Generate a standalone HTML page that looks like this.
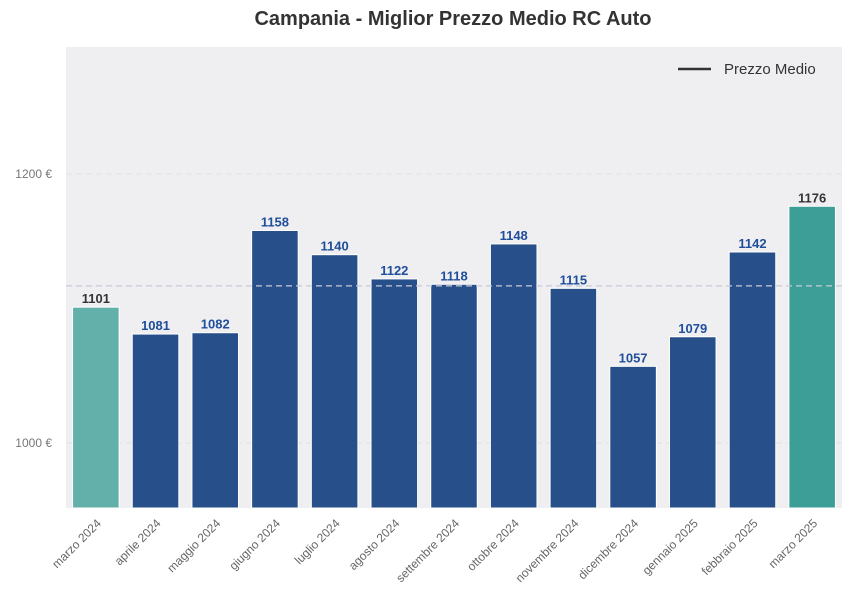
<!DOCTYPE html>
<html><head><meta charset="utf-8"><style>
body{margin:0;background:#fff;font-family:"Liberation Sans",Arial,sans-serif}
</style></head><body>
<svg id="chart" width="851" height="610" xmlns="http://www.w3.org/2000/svg">
<text x="453" y="25" text-anchor="middle" font-size="20" font-weight="bold" fill="#333">Campania - Miglior Prezzo Medio RC Auto</text>
<rect x="66" y="47" width="776" height="461" fill="#efeff1"/>
<g id="grid"></g><g id="bars"></g><g id="labels"></g><g id="xt"></g>
<g>
<line x1="678" y1="69" x2="711" y2="69" stroke="#333" stroke-width="2.5"/>
<text x="724" y="74" font-size="15" fill="#333">Prezzo Medio</text>
</g>
</svg>
<script>
const categories=["marzo 2024","aprile 2024","maggio 2024","giugno 2024","luglio 2024","agosto 2024","settembre 2024","ottobre 2024","novembre 2024","dicembre 2024","gennaio 2025","febbraio 2025","marzo 2025"];
const values=[1101,1081,1082,1158,1140,1122,1118,1148,1115,1057,1079,1142,1176];
const yTicks=[1000,1200];
const NS="http://www.w3.org/2000/svg";
const x0=66,plotW=776,yMin=951.7,yMax=1294.4,yTop=47,yBot=508;
const yS=v=>yBot-(v-yMin)/(yMax-yMin)*(yBot-yTop);
const step=plotW/categories.length;
const cx=i=>x0+step*(i+0.5);
function mk(t,a,p){const e=document.createElementNS(NS,t);for(const k in a)e.setAttribute(k,a[k]);p.appendChild(e);return e;}
const g=document.getElementById('grid');
yTicks.forEach(t=>{
 const l=mk('line',{x1:x0,x2:x0+plotW,y1:yS(t),y2:yS(t),stroke:'#e2e2e8','stroke-dasharray':'6,4'},g);
 
 
 const tx=mk('text',{x:x0-14,y:yS(t)+4,'text-anchor':'end','font-size':12,fill:'#777'},g);
 tx.textContent=t+' €';
 
 
});
const mean=values.reduce((a,b)=>a+b,0)/values.length;
const b=document.getElementById('bars'),lb=document.getElementById('labels'),xt=document.getElementById('xt');
const bw=step*0.78;
values.forEach((v,i)=>{
 const last=i===values.length-1,first=i===0;
 const col=first?'#63b0aa':last?'#3d9e98':'#274f8a';
 const r=mk('rect',{x:cx(i)-bw/2,y:yS(v),width:bw,height:yBot-yS(v),fill:col,stroke:'#fff','stroke-width':1},b);
 
 
 const t=mk('text',{x:cx(i),y:yS(v)-4,'text-anchor':'middle','font-size':13,'font-weight':'bold',fill:(first||last)?'#333':'#1f4e9b'},lb);
 t.textContent=v;
 
 
 const xl=mk('text',{x:0,y:0,'text-anchor':'end','font-size':12,fill:'#666',transform:`translate(${cx(i)+6},${yBot+16}) rotate(-45)`},xt);
 xl.textContent=categories[i];
 
 
});
const ml=mk('line',{x1:x0,x2:x0+plotW,y1:yS(mean),y2:yS(mean),stroke:'#c8cad8','stroke-dasharray':'6,4','stroke-width':1.2},document.getElementById('chart'));


</script>
</body></html>
